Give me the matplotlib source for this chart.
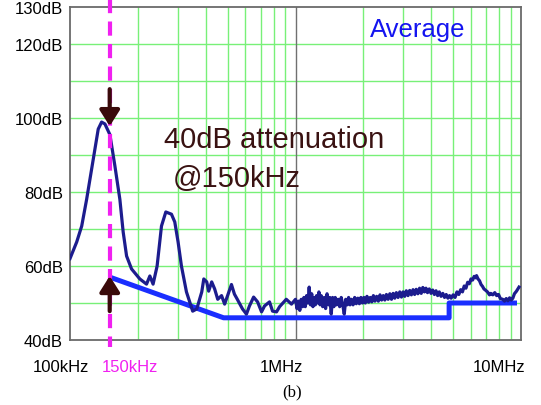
import matplotlib
matplotlib.use("Agg")
import matplotlib.pyplot as plt
import matplotlib.transforms as mtransforms

plt.rcParams['font.family'] = ['Liberation Sans', 'DejaVu Sans']

# measured spectrum (average detector), frequency in kHz, level in dB
freq_khz = [100, 107.1, 112.7, 118.5, 124.7, 129, 133.4, 138.1, 142.8, 147.7,
            150.3, 158.2, 166.4, 172.1, 178.2, 187.5, 204, 218.5, 226, 233.6,
            243.4, 254.5, 266, 281.8, 291.5, 301.5, 312, 328.4, 350, 365,
            384, 392, 404, 412, 425, 438, 452, 470, 485, 500,
            520, 536, 552, 582, 606, 625, 652, 679, 707, 729,
            767, 791, 824, 850, 910, 960,
            1000, 1015, 1030, 1045, 1060, 1075, 1090, 1105, 1120, 1135,
            1150, 1165, 1180, 1195, 1210, 1225, 1240, 1255, 1270, 1285,
            1300, 1320, 1340, 1360, 1380, 1400, 1420, 1440, 1460, 1480,
            1500, 1520, 1545, 1570, 1595, 1620, 1645, 1670, 1695, 1720,
            1745, 1770, 1800, 1830, 1860, 1890, 1920, 1950, 1980, 2010,
            2040, 2075, 2110, 2145, 2180, 2215, 2250, 2290, 2330, 2370,
            2410, 2450, 2490, 2530, 2575, 2620, 2665, 2710, 2755, 2800,
            2850, 2900, 2950, 3000, 3050, 3100, 3155, 3210, 3265, 3320,
            3375, 3430, 3490, 3550, 3610, 3670, 3730, 3790, 3850, 3920,
            3990, 4060, 4130, 4200, 4270, 4340, 4420, 4500, 4580, 4660,
            4740, 4820,
            4900, 5000, 5100, 5200, 5300, 5400, 5500, 5600, 5700, 5800,
            5900, 6000, 6100, 6200, 6300, 6350, 6450, 6550, 6650, 6750,
            6850, 6950, 7100, 7250, 7350, 7500, 7650, 7800, 7950, 8100,
            8300, 8450, 8600, 8750, 8900, 9050, 9200, 9350, 9550, 9800]
level_db = [62, 66.5, 70.8, 78, 86.2, 91.6, 97, 98.9, 98.4, 96.5,
            95.5, 87, 78, 69.2, 62.7, 59.2, 56.5, 55.1, 57.3, 55.1,
            60, 70.8, 74.6, 74, 71.9, 66.5, 60, 53, 47.8, 48.4,
            53, 56.5, 55.7, 53.2, 55.7, 53.8, 51, 52, 49.7, 52,
            55, 52.4, 51, 48.4, 47, 49.2, 51.6, 50.3, 47.6, 49.2,
            50.3, 47.8, 47.6, 49, 51, 49.7,
            51, 48.5, 50.5, 48, 51, 49, 51.5, 49, 52, 50,
            54.3, 49.5, 52.5, 49, 51.5, 49.5, 52, 50, 53, 49.5,
            52, 49, 51.5, 48.5, 52.5, 49.5, 51.5, 47, 51.5, 49,
            51.5, 49.5, 51, 49, 51.5, 49.5, 47, 51, 49.5, 51.5,
            49.5, 51, 49.5, 51.5, 49.8, 51.3, 49.8, 51.5, 50, 51.5,
            50, 51.8, 50.2, 51.5, 50.3, 52, 50.5, 51.8, 50.5, 52.2,
            50.8, 52, 50.8, 52.3, 51, 52.5, 51, 52.6, 51.3, 52.8,
            51.5, 53, 51.6, 53, 51.8, 53.3, 52, 53.4, 52.2, 53.6,
            52.3, 53.7, 52.5, 54, 52.6, 54.2, 53, 54, 52.8, 53.8,
            52.6, 53.5, 52.3, 53.3, 52, 53, 51.8, 52.6, 51.5, 52.3,
            51.3, 52,
            51.3, 52.2, 51.5, 53, 52.3, 53.6, 53, 54.6, 54, 55.6,
            55.2, 56.5, 56.2, 57.2, 56.8, 57.4, 56.5, 56, 55, 54.5,
            53.8, 53.5, 53, 52.2, 52.6, 52.2, 52.8, 52, 52.3, 51.2,
            51, 50.5, 51.2, 50.6, 51.4, 50.8, 51.3, 52.5, 53.2, 54.3]

# average limit line
limit_khz = [150, 480, 4800, 4800, 9600]
limit_db = [57, 46, 46, 50, 50]

mark_khz = 150
arrow_down_db = (107.8, 97.8)
arrow_up_db = (47.8, 57.3)

x_ticks = [100, 150, 1000, 10000]
x_labels = ["100kHz", "150kHz", "1MHz", "10MHz"]
x_label_shift = [-9, 20, -14, -22]   # px
y_ticks = [40, 60, 80, 100, 120, 130]
y_labels = ["40dB", "60dB", "80dB", "100dB", "120dB", "130dB"]

grid_x = [200, 300, 400, 500, 600, 700, 800, 900,
          2000, 3000, 4000, 5000, 6000, 7000, 8000, 9000]
grid_y = [50, 60, 70, 80, 90, 100, 110, 120]

fig = plt.figure(figsize=(5.41, 4.06), dpi=100)
ax = fig.add_axes([70 / 541, 65 / 406, 451 / 541, 333 / 406])
ax.set_xscale("log")
ax.set_xlim(100, 10000)
ax.set_ylim(40, 130)

for g in grid_x:
    ax.axvline(g, color="#78f078", lw=1.0, zorder=1)
for g in grid_y:
    ax.axhline(g, color="#78f078", lw=1.0, zorder=1)
ax.axvline(1000, color="#707070", lw=1.0, zorder=1)

ax.plot(limit_khz, limit_db, color="#1a2eff", lw=3.6, solid_capstyle="butt",
        solid_joinstyle="round", zorder=3)
ax.plot(freq_khz, level_db, color="#1c1c8e", lw=2.3, solid_joinstyle="round", zorder=4)

# 150kHz marker line, runs past the frame
mline, = ax.plot([mark_khz, mark_khz], [132.2, 38.1], color="#f020f0", lw=3.0,
                 clip_on=False, zorder=5)
mline.set_dashes((3.4, 2.0))

arrow_props = dict(arrowstyle="-|>,head_length=0.95,head_width=0.6",
                   color="#3a0a0a", lw=3.0, shrinkA=0, shrinkB=0)
ax.annotate("", xy=(mark_khz, arrow_down_db[1]), xytext=(mark_khz, arrow_down_db[0]),
            arrowprops=arrow_props, zorder=6)
ax.annotate("", xy=(mark_khz, arrow_up_db[1]), xytext=(mark_khz, arrow_up_db[0]),
            arrowprops=arrow_props, zorder=6)

ax.text(0.208, 0.580, "40dB attenuation", transform=ax.transAxes, fontsize=21,
        color="#3a1212", va="baseline", ha="left", zorder=7)
ax.text(0.228, 0.462, "@150kHz", transform=ax.transAxes, fontsize=21,
        color="#3a1212", va="baseline", ha="left", zorder=7)
ax.text(0.665, 0.913, "Average", transform=ax.transAxes, fontsize=18.5,
        color="#1414f0", va="baseline", ha="left", zorder=7)

# axes styling
for s in ax.spines.values():
    s.set_color("#6a6a6a")
    s.set_linewidth(1.3)
ax.tick_params(length=0)
ax.set_xticks(x_ticks)
ax.set_xticks([], minor=True)
ax.set_xticklabels(x_labels, fontsize=12)
ax.tick_params(axis="x", pad=14)
for lab, dx in zip(ax.get_xticklabels(), x_label_shift):
    lab.set_transform(lab.get_transform() + mtransforms.ScaledTranslation(dx / 100, 0, fig.dpi_scale_trans))
ax.get_xticklabels()[1].set_color("#f020f0")
ax.set_yticks(y_ticks)
ax.set_yticklabels(y_labels, fontsize=12)
ax.tick_params(axis="y", pad=5)

fig.text(292 / 541, 1 - 392 / 406, "(b)", fontsize=12, family="Liberation Serif",
         ha="center", va="center")

fig.savefig("out.png", dpi=100)
